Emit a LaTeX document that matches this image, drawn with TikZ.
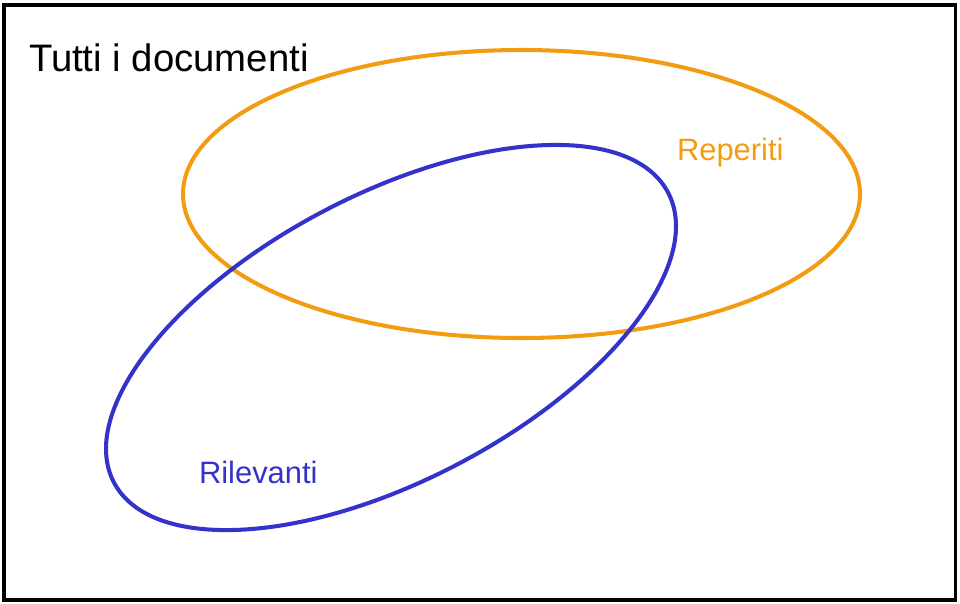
\documentclass[tikz,border=0pt]{standalone}
\usepackage{fontspec}
\setmainfont{Liberation Sans}
\definecolor{reporange}{RGB}{243,156,18}
\definecolor{relblue}{RGB}{51,51,204}

\begin{document}
\begin{tikzpicture}[x=0.02cm,y=-0.02cm,line width=2.3pt]
\useasboundingbox (0,0) rectangle (960,603);
\draw[line width=2.2pt] (4,5) rectangle (955.5,600);
\draw[reporange] (521.5,194) ellipse [x radius=338.5,y radius=144];
\draw[relblue,rotate around={27.6:(391,337.5)}] (391,337.5) ellipse [x radius=312.7,y radius=143.2];
\node[anchor=base west,inner sep=0pt,font=\fontsize{21.8pt}{24pt}\selectfont] (tutti) at (27,71) {Tutti i documenti};
\node[anchor=base west,inner sep=0pt,text=reporange,font=\fontsize{17.6pt}{20pt}\selectfont] (reperiti) at (675,160) {Reperiti};
\node[anchor=base west,inner sep=0pt,text=relblue,font=\fontsize{17.6pt}{20pt}\selectfont] (rilevanti) at (197,483) {Rilevanti};
\end{tikzpicture}
\end{document}
